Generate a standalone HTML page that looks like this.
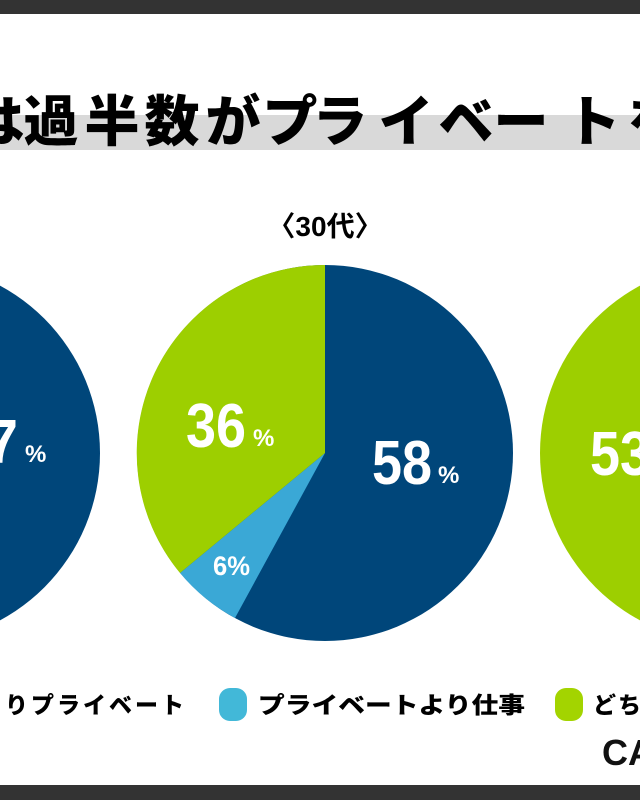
<!DOCTYPE html>
<html><head><meta charset="utf-8"><style>
html,body{margin:0;padding:0;background:#fff;}
svg{display:block;}
</style></head><body>
<svg width="640" height="800" viewBox="0 0 640 800" xmlns="http://www.w3.org/2000/svg">
<rect x="0" y="0" width="640" height="800" fill="#fff"/>
<rect x="0" y="0" width="640" height="14" fill="#333"/>
<rect x="0" y="785" width="640" height="15" fill="#333"/>
<rect x="0" y="115" width="640" height="35" fill="#d9d9d9"/>
<g font-family="'Noto Sans CJK JP','Liberation Sans',sans-serif" font-weight="900" font-size="55" fill="#000" text-anchor="middle">
<text x="-3" y="141">は</text><text x="51" y="141">過</text><text x="112" y="141">半</text><text x="172" y="141">数</text><text x="233" y="141">が</text><text x="290" y="141">プ</text><text x="340" y="141">ラ</text><text x="406" y="141">イ</text><text x="466" y="141">ベ</text><text x="521" y="141">ー</text><text x="593" y="141">ト</text><text x="655" y="141">を</text>
</g>
<text x="325" y="236" text-anchor="middle" font-family="'Liberation Sans','Noto Sans CJK JP',sans-serif" font-weight="700" font-size="28" fill="#000">〈30代〉</text>

<circle cx="-90" cy="453" r="190" fill="#00467a"/>
<circle cx="730" cy="453" r="190" fill="#9dcf00"/>
<circle cx="325" cy="453" r="188" fill="#00467a"/>
<path d="M325 453 L235 618 A188 188 0 0 1 180 573 Z" fill="#3aa8d6"/>
<path d="M325 453 L180 573 A188 188 0 0 1 325 265 Z" fill="#9dcf00"/>

<g font-family="'Liberation Sans',sans-serif" font-weight="700" fill="#fff">
<text x="372" y="484" font-size="62" textLength="60" lengthAdjust="spacingAndGlyphs">58</text>
<text x="438" y="483" font-size="24">%</text>
<text x="186" y="447" font-size="62" textLength="60" lengthAdjust="spacingAndGlyphs">36</text>
<text x="253" y="446" font-size="24">%</text>
<text x="213" y="575" font-size="27" textLength="37" lengthAdjust="spacingAndGlyphs">6%</text>
<text x="-14" y="463" font-size="62" textLength="32" lengthAdjust="spacingAndGlyphs">7</text>
<text x="25" y="462" font-size="24">%</text>
<text x="590" y="475" font-size="62" textLength="60" lengthAdjust="spacingAndGlyphs">53</text>
</g>

<rect x="219" y="688" width="28" height="33" rx="11" fill="#42b8d8"/>
<rect x="555" y="688" width="28" height="33" rx="11" fill="#a3d400"/>
<g font-family="'Noto Sans CJK JP','Liberation Sans',sans-serif" font-weight="900" font-size="23" fill="#000">
<text x="187" y="713" text-anchor="end" letter-spacing="3">りプライベート</text>
<text x="258" y="713" textLength="267" lengthAdjust="spacingAndGlyphs">プライベートより仕事</text>
<text x="593" y="713" letter-spacing="2">どちらとも</text>
</g>
<text x="602" y="765" font-family="'Liberation Sans',sans-serif" font-weight="700" font-size="36" fill="#111">CAREER</text>
</svg>
</body></html>
